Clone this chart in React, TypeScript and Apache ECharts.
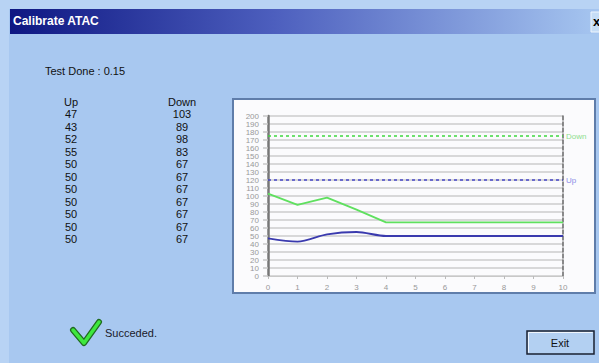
import React, { useEffect, useRef } from "react";
import * as echarts from "echarts";

const steps = [0, 1, 2, 3, 4, 5, 6, 7, 8, 9, 10];
const upValues = [47, 43, 52, 55, 50, 50, 50, 50, 50, 50, 50];
const downValues = [103, 89, 98, 83, 67, 67, 67, 67, 67, 67, 67];
const upLimit = 120;
const downLimit = 175;
const testDone = "0.15";
const columnHeaders = ["Up", "Down"];

const FONT = "'Liberation Sans', Arial, sans-serif";

export default function App() {
  const ref = useRef<HTMLDivElement>(null);
  useEffect(() => {
    document.body.style.margin = "0";
    const chart = echarts.init(ref.current!, null, { renderer: "svg" });

    const tableTexts: any[] = [];
    const rowPitch = 12.45;
    const colX = [71, 182];
    const txt = (x: number, y: number, t: string) => ({
      type: "text", z: 10, x, y,
      style: { text: t, fill: "#111", font: `11px ${FONT}`, textAlign: "center", textVerticalAlign: "middle" },
    });
    columnHeaders.forEach((h, c) => tableTexts.push(txt(colX[c], 102, h)));
    upValues.forEach((v, i) => tableTexts.push(txt(colX[0], 102 + rowPitch * (i + 1), String(v))));
    downValues.forEach((v, i) => tableTexts.push(txt(colX[1], 102 + rowPitch * (i + 1), String(v))));

    chart.setOption({
      animation: false,
      backgroundColor: "#a8c8f0",
      graphic: [
        { type: "rect", z: -10, shape: { x: 0, y: 0, width: 9, height: 363 }, style: { fill: "#b8d3f4" } },
        { type: "rect", z: -10, shape: { x: 0, y: 0, width: 599, height: 9 }, style: { fill: "#b8d3f4" } },
        {
          type: "rect", z: -9, shape: { x: 10, y: 9, width: 589, height: 25 },
          style: {
            fill: new echarts.graphic.LinearGradient(0, 0, 1, 0, [
              { offset: 0, color: "#0e1782" },
              { offset: 0.45, color: "#4d5fbe" },
              { offset: 1, color: "#a6c6f0" },
            ]),
          },
        },
        {
          type: "text", z: 10, x: 13, y: 21,
          style: { text: "Calibrate ATAC", fill: "#ffffff", font: `bold 12px ${FONT}`, textVerticalAlign: "middle" },
        },
        { type: "rect", z: 10, shape: { x: 591, y: 12, width: 12, height: 20 }, style: { fill: "#c6ddf6", stroke: "#eef5fd", lineWidth: 1 } },
        {
          type: "text", z: 11, x: 593, y: 21,
          style: { text: "x", fill: "#000", font: `bold 13px ${FONT}`, textVerticalAlign: "middle" },
        },
        {
          type: "text", z: 10, x: 45, y: 71,
          style: { text: "Test Done : " + testDone, fill: "#111", font: `11px ${FONT}`, textVerticalAlign: "middle" },
        },
        ...tableTexts,
        {
          type: "rect", z: -8, shape: { x: 233, y: 99, width: 362, height: 194 },
          style: { fill: "#fbfbfd", stroke: "#5f7daa", lineWidth: 2 },
        },
        {
          type: "polyline", z: 10, shape: { points: [[73, 330], [84, 343], [99, 322]] },
          style: { stroke: "#1f6b1f", lineWidth: 6, lineCap: "round", lineJoin: "round", fill: "none" },
        },
        {
          type: "polyline", z: 11, shape: { points: [[73, 330], [84, 343], [99, 322]] },
          style: { stroke: "#3ee83e", lineWidth: 3.5, lineCap: "round", lineJoin: "round", fill: "none" },
        },
        {
          type: "text", z: 10, x: 105, y: 333,
          style: { text: "Succeded.", fill: "#1a1a2a", font: `11px ${FONT}`, textVerticalAlign: "middle" },
        },
        {
          type: "rect", z: 10, shape: { x: 527, y: 331, width: 67, height: 23 },
          style: { fill: "#b3d0f2", stroke: "#1a2030", lineWidth: 1.5 },
        },
        {
          type: "polyline", z: 11, shape: { points: [[528.5, 352.5], [528.5, 332.5], [592.5, 332.5]] },
          style: { stroke: "#f0f6fe", lineWidth: 1, fill: "none" },
        },
        {
          type: "text", z: 12, x: 560, y: 343,
          style: { text: "Exit", fill: "#111", font: `11px ${FONT}`, textAlign: "center", textVerticalAlign: "middle" },
        },
      ],
      grid: { left: 268, right: 36, top: 116, bottom: 87, containLabel: false },
      xAxis: {
        type: "value", min: 0, max: 10, interval: 1,
        axisLine: { show: true, lineStyle: { color: "#c8c8c8", width: 1 } },
        axisTick: { show: true, length: 3, lineStyle: { color: "#bbb" } },
        axisLabel: { color: "#999", fontSize: 8, fontFamily: FONT, margin: 7 },
        splitLine: { show: false },
      },
      yAxis: [
        {
          type: "value", min: 0, max: 200, interval: 10,
          axisLine: { show: true, lineStyle: { color: "#777", width: 2.5 } },
          axisTick: { show: true, length: 5, lineStyle: { color: "#c8c8c8", width: 1.5 } },
          axisLabel: { color: "#999", fontSize: 8, fontFamily: FONT, margin: 9 },
          splitLine: { show: true, lineStyle: { color: "#cccccc", width: 1.5 } },
        },
        {
          type: "value", min: 0, max: 200, interval: 10, position: "right",
          axisLine: { show: true, lineStyle: { color: "#666", width: 1.5, type: [4, 2] } },
          axisTick: { show: false },
          axisLabel: { show: false },
          splitLine: { show: false },
        },
      ],
      series: [
        {
          name: "Down", type: "line", showSymbol: false, z: 3,
          data: steps.map((s, i) => [s, downValues[i]]),
          lineStyle: { color: "#5fe05f", width: 1.8 },
          markLine: {
            symbol: "none", silent: true,
            lineStyle: { color: "#3fd83f", width: 1.5, type: [3, 3] },
            label: { position: "end", formatter: "Down", color: "#8ede8e", fontSize: 8, fontFamily: FONT, distance: 3 },
            data: [{ yAxis: downLimit }],
          },
        },
        {
          name: "Up", type: "line", showSymbol: false, smooth: 0.3, z: 3,
          data: steps.map((s, i) => [s, upValues[i]]),
          lineStyle: { color: "#3a3aae", width: 1.8 },
          markLine: {
            symbol: "none", silent: true,
            lineStyle: { color: "#4646c8", width: 1.5, type: [3, 3] },
            label: { position: "end", formatter: "Up", color: "#8c8ce6", fontSize: 8, fontFamily: FONT, distance: 3 },
            data: [{ yAxis: upLimit }],
          },
        },
      ],
    });
    return () => chart.dispose();
  }, []);
  return <div ref={ref} style={{ width: 599, height: 363 }} />;
}
